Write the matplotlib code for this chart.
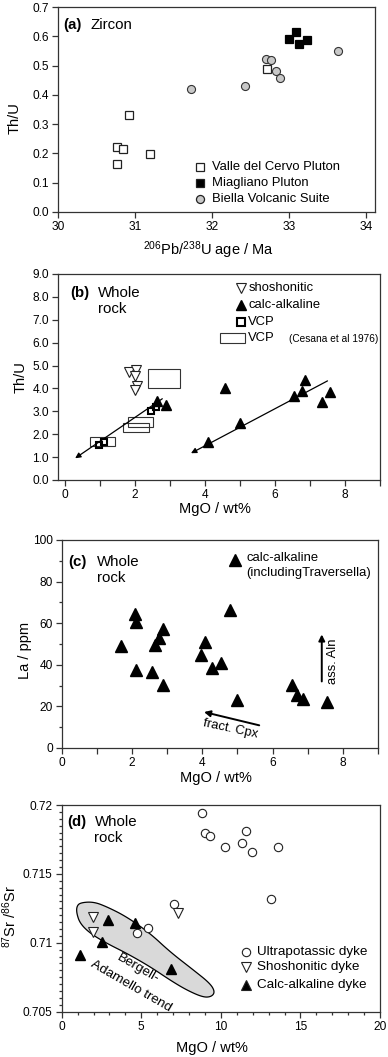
import numpy as np
import matplotlib
matplotlib.use('Agg')
import matplotlib.pyplot as plt
from matplotlib.patches import Rectangle, Polygon
from matplotlib.ticker import MultipleLocator, FuncFormatter

plt.rcParams['font.family'] = ['Liberation Sans', 'DejaVu Sans']
plt.rcParams['font.size'] = 9.4
plt.rcParams['mathtext.fontset'] = 'custom'
plt.rcParams['mathtext.rm'] = 'Liberation Sans'
plt.rcParams['mathtext.it'] = 'Liberation Sans:italic'

# (a) zircon Th/U vs age
vcp_age = [30.76, 30.84, 30.76, 30.92, 31.19, 32.71]
vcp_thu = [0.222, 0.216, 0.165, 0.330, 0.199, 0.487]
mia_age = [33.09, 33.00, 33.13, 33.24]
mia_thu = [0.615, 0.590, 0.575, 0.588]
bvs_age = [31.72, 32.43, 32.70, 32.77, 32.83, 32.89, 33.64]
bvs_thu = [0.421, 0.431, 0.524, 0.520, 0.480, 0.459, 0.549]

# (b) whole rock Th/U vs MgO
sho_mgo_b = [1.82, 2.03, 2.00, 2.05, 2.00]
sho_thu_b = [4.70, 4.82, 4.55, 4.10, 3.93]
cal_mgo_b = [2.62, 2.89, 4.57, 4.09, 5.00, 6.55, 6.86, 6.76, 7.33, 7.57]
cal_thu_b = [3.46, 3.28, 4.00, 1.67, 2.48, 3.67, 4.37, 3.90, 3.39, 3.83]
vcp_mgo_b = [0.98, 1.11, 2.46, 2.59]
vcp_thu_b = [1.53, 1.65, 3.03, 3.20]
ces_mgo_lo = [0.71, 1.67, 1.81, 2.38]
ces_mgo_hi = [1.43, 2.41, 2.52, 3.29]
ces_thu_lo = [1.50, 2.08, 2.30, 4.00]
ces_thu_hi = [1.89, 2.50, 2.74, 4.84]
trend_from = [(2.78, 3.55), (7.50, 4.33)]
trend_to = [(0.29, 0.95), (3.60, 1.17)]

# (c) La vs MgO
la_mgo = [1.69, 2.08, 2.10, 2.10, 2.57, 2.65, 2.78, 2.88, 2.87, 3.95,
          4.07, 4.29, 4.54, 4.79, 5.00, 6.55, 6.69, 6.88, 7.55]
la_ppm = [48.8, 64.5, 60.8, 37.6, 36.3, 49.6, 52.8, 57.3, 30.4, 44.5,
          50.9, 38.4, 40.8, 66.4, 22.9, 30.4, 25.3, 23.5, 21.9]

# (d) 87Sr/86Sr vs MgO
upk_mgo = [8.80, 9.00, 9.32, 10.26, 11.33, 11.56, 11.98, 13.61, 13.13, 7.05, 4.75, 5.44]
upk_sr = [0.71944, 0.71799, 0.71775, 0.71698, 0.71722, 0.71811, 0.71659,
          0.71693, 0.71320, 0.71282, 0.71073, 0.71105]
sho_mgo_d = [1.99, 1.99, 7.33]
sho_sr_d = [0.71189, 0.71081, 0.71214]
cal_mgo_d = [1.15, 2.51, 2.89, 4.60, 6.85]
cal_sr_d = [0.70911, 0.71008, 0.71165, 0.71141, 0.70808]
bergell_mgo = [1.15, 1.99, 2.83, 4.08, 5.55, 6.80, 8.27, 9.32, 9.63, 9.42,
               8.89, 7.85, 6.80, 5.55, 4.08, 2.83, 1.78, 1.15, 0.94, 0.94]
bergell_sr = [0.71291, 0.71298, 0.71262, 0.71189, 0.71069, 0.70935, 0.70803,
              0.70706, 0.70645, 0.70609, 0.70604, 0.70657, 0.70730, 0.70827,
              0.70924, 0.70996, 0.71069, 0.71141, 0.71214, 0.71262]

SPINE = '#333333'
TICK_FS = 8.6
TITLE_FS = 10.8


def style(ax):
    for s in ax.spines.values():
        s.set_color(SPINE)
        s.set_linewidth(0.9)
    ax.tick_params(which='both', direction='out', color=SPINE, width=0.9,
                   labelsize=TICK_FS, pad=2, top=False, right=False)
    ax.tick_params(which='major', length=4.5)


def chaikin(xs, ys, n=4):
    pts = np.column_stack([xs, ys])
    for _ in range(n):
        nxt = np.roll(pts, -1, axis=0)
        q = 0.75 * pts + 0.25 * nxt
        r = 0.25 * pts + 0.75 * nxt
        pts = np.empty((2 * len(q), 2))
        pts[0::2] = q
        pts[1::2] = r
    return pts


def labels(ax, xl, yl, xpos, ypos):
    ax.set_xlabel(xl, fontsize=10.5)
    ax.set_ylabel(yl, fontsize=10.5)
    ax.xaxis.set_label_coords(*xpos)
    ax.yaxis.set_label_coords(*ypos)
    ax.xaxis.label.set_va('center')
    ax.yaxis.label.set_va('center')


def panel_title(ax, tag, x0, x1, y0, y1=None):
    ax.text(x0, y0, tag, transform=ax.transAxes, fontsize=TITLE_FS,
            fontweight='bold', va='center')
    if y1 is None:
        ax.text(x1, y0, 'Zircon', transform=ax.transAxes, fontsize=TITLE_FS, va='center')
    else:
        ax.text(x1, y0, 'Whole', transform=ax.transAxes, fontsize=TITLE_FS, va='center')
        ax.text(x1, y1, 'rock', transform=ax.transAxes, fontsize=TITLE_FS, va='center')


fig = plt.figure(figsize=(3.88, 10.57), dpi=100)
W, H = 388.0, 1057.0


def add_axes(l, r, t, b):
    return fig.add_axes([l / W, 1 - b / H, (r - l) / W, (b - t) / H])


# ---------- (a)
ax = add_axes(58.3, 375, 7, 212)
style(ax)
ax.plot(vcp_age, vcp_thu, 's', ms=5.3, mfc='white', mec='#222', mew=0.9)
ax.plot(mia_age, mia_thu, 's', ms=5.5, mfc='black', mec='black', mew=0.9)
ax.plot(bvs_age, bvs_thu, 'o', ms=5.8, mfc='#c8c8c8', mec='#333', mew=0.8)
ax.set_xlim(30, 34.12)
ax.set_ylim(0, 0.7)
ax.xaxis.set_major_locator(MultipleLocator(1))
ax.yaxis.set_major_locator(MultipleLocator(0.1))
ax.yaxis.set_major_formatter(FuncFormatter(lambda v, p: f'{v:.1f}'))
panel_title(ax, '(a)', 0.016, 0.102, 0.912)
leg_a = [('Valle del Cervo Pluton', 's', 'white', 5.3),
         ('Miagliano Pluton', 's', 'black', 5.5),
         ('Biella Volcanic Suite', 'o', '#c8c8c8', 5.8)]
for (lab, m, fc, ms), yy in zip(leg_a, [0.220, 0.142, 0.063]):
    ax.plot([0.447], [yy], m, ms=ms, mfc=fc, mec='#222', mew=0.9,
            transform=ax.transAxes, clip_on=False)
    ax.text(0.486, yy, lab, transform=ax.transAxes, va='center')
labels(ax, r'$^{206}$Pb/$^{238}$U age / Ma', 'Th/U', (0.473, -0.185), (-0.137, 0.46))

# ---------- (b)
ax = add_axes(58, 380, 274, 480)
style(ax)
for x0, x1, y0, y1 in zip(ces_mgo_lo, ces_mgo_hi, ces_thu_lo, ces_thu_hi):
    ax.add_patch(Rectangle((x0, y0), x1 - x0, y1 - y0, fill=False,
                           ec='#333', lw=0.8))
for (x0, y0), (x1, y1) in zip(trend_from, trend_to):
    ax.annotate('', xy=(x1, y1), xytext=(x0, y0),
                arrowprops=dict(arrowstyle='-|>', color='black', lw=0.9,
                                mutation_scale=8, shrinkA=0, shrinkB=0))
ax.plot(vcp_mgo_b, vcp_thu_b, 's', ms=5.0, mfc='none', mec='black', mew=1.5)
ax.plot(sho_mgo_b, sho_thu_b, 'v', ms=6.8, mfc='white', mec='#222', mew=0.8)
ax.plot(cal_mgo_b, cal_thu_b, '^', ms=7.3, mfc='black', mec='black')
ax.set_xlim(-0.2, 9)
ax.set_ylim(0, 9)
ax.xaxis.set_major_locator(MultipleLocator(2))
ax.xaxis.set_minor_locator(MultipleLocator(1))
ax.tick_params(which='minor', length=4.5)
ax.yaxis.set_major_locator(MultipleLocator(1))
ax.yaxis.set_major_formatter(FuncFormatter(lambda v, p: f'{v:.1f}'))
panel_title(ax, '(b)', 0.037, 0.125, 0.908, 0.830)
ax.plot([0.567], [0.931], 'v', ms=6.8, mfc='white', mec='#222', mew=0.8,
        transform=ax.transAxes, clip_on=False)
ax.plot([0.567], [0.850], '^', ms=7.3, mfc='black', mec='black',
        transform=ax.transAxes, clip_on=False)
ax.plot([0.567], [0.768], 's', ms=5.5, mfc='none', mec='black', mew=1.5,
        transform=ax.transAxes, clip_on=False)
ax.add_patch(Rectangle((0.503, 0.667), 0.078, 0.045, fill=False, ec='#333',
                       lw=0.8, transform=ax.transAxes))
ax.text(0.591, 0.931, 'shoshonitic', transform=ax.transAxes, va='center')
ax.text(0.591, 0.850, 'calc-alkaline', transform=ax.transAxes, va='center')
ax.text(0.591, 0.768, 'VCP', transform=ax.transAxes, va='center')
ax.text(0.591, 0.689, 'VCP', transform=ax.transAxes, va='center')
ax.text(0.718, 0.686, '(Cesana et al 1976)', transform=ax.transAxes,
        va='center', fontsize=7.3)
labels(ax, 'MgO / wt%', 'Th/U', (0.488, -0.141), (-0.116, 0.50))

# ---------- (c)
ax = add_axes(61.7, 378, 540, 748)
style(ax)
ax.plot(la_mgo, la_ppm, '^', ms=8.3, mfc='black', mec='black')
ax.annotate('', xy=(4.05, 17.3), xytext=(5.62, 10.9),
            arrowprops=dict(arrowstyle='-|>', color='black', lw=1.4,
                            mutation_scale=9, shrinkA=0, shrinkB=0))
ax.annotate('', xy=(7.4, 54.6), xytext=(7.4, 32),
            arrowprops=dict(arrowstyle='-|>', color='black', lw=1.4,
                            mutation_scale=9, shrinkA=0, shrinkB=0))
ax.text(4.81, 9.0, 'fract. Cpx', rotation=-12, ha='center', va='center')
ax.text(7.71, 41.6, 'ass. Aln', rotation=90, ha='center', va='center')
ax.set_xlim(0, 9)
ax.set_ylim(0, 100)
ax.xaxis.set_major_locator(MultipleLocator(2))
ax.xaxis.set_minor_locator(MultipleLocator(1))
ax.tick_params(axis='x', which='minor', length=4.5)
ax.yaxis.set_major_locator(MultipleLocator(20))
ax.yaxis.set_minor_locator(MultipleLocator(10))
ax.tick_params(axis='y', which='minor', length=2.5)
panel_title(ax, '(c)', 0.021, 0.111, 0.896, 0.816)
ax.plot([0.548], [0.905], '^', ms=8.3, mfc='black', mec='black',
        transform=ax.transAxes, clip_on=False)
ax.text(0.583, 0.912, 'calc-alkaline', transform=ax.transAxes, va='center')
ax.text(0.583, 0.843, '(includingTraversella)', transform=ax.transAxes, va='center')
labels(ax, 'MgO / wt%', 'La / ppm', (0.489, -0.144), (-0.116, 0.471))

# ---------- (d)
ax = add_axes(61.7, 380, 805, 1011.7)
style(ax)
blob = chaikin(bergell_mgo, bergell_sr)
ax.add_patch(Polygon(blob, closed=True, fc='#d9d9d9', ec='black', lw=0.9))
ax.text(4.81, 0.70815, 'Bergell-', rotation=-30, ha='center', va='center', fontsize=9.7)
ax.text(4.33, 0.70687, 'Adamello trend', rotation=-30, ha='center', va='center', fontsize=9.7)
ax.plot(upk_mgo, upk_sr, 'o', ms=6.0, mfc='white', mec='#222', mew=0.8)
ax.plot(sho_mgo_d, sho_sr_d, 'v', ms=6.5, mfc='white', mec='#222', mew=0.8)
ax.plot(cal_mgo_d, cal_sr_d, '^', ms=6.8, mfc='black', mec='black')
ax.set_xlim(0, 20)
ax.set_ylim(0.705, 0.72)
ax.xaxis.set_major_locator(MultipleLocator(5))
ax.xaxis.set_minor_locator(MultipleLocator(1))
ax.yaxis.set_major_locator(MultipleLocator(0.005))
ax.yaxis.set_minor_locator(MultipleLocator(0.0005))
ax.yaxis.set_major_formatter(FuncFormatter(lambda v, p: f'{v:g}'))
ax.tick_params(which='minor', length=2.5)
panel_title(ax, '(d)', 0.016, 0.103, 0.919, 0.842)
leg_d = [('Ultrapotassic dyke', 'o', 'white', 6.0),
         ('Shoshonitic dyke', 'v', 'white', 6.5),
         ('Calc-alkaline dyke', '^', 'black', 6.8)]
for (lab, m, fc, ms), yy in zip(leg_d, [0.290, 0.215, 0.129]):
    ax.plot([0.578], [yy], m, ms=ms, mfc=fc, mec='#222', mew=0.8,
            transform=ax.transAxes, clip_on=False)
    ax.text(0.615, yy, lab, transform=ax.transAxes, va='center', fontsize=9.7)
labels(ax, 'MgO / wt%', r'$^{87}$Sr /$^{86}$Sr', (0.471, -0.176), (-0.162, 0.46))

fig.savefig('out.png', dpi=100)
